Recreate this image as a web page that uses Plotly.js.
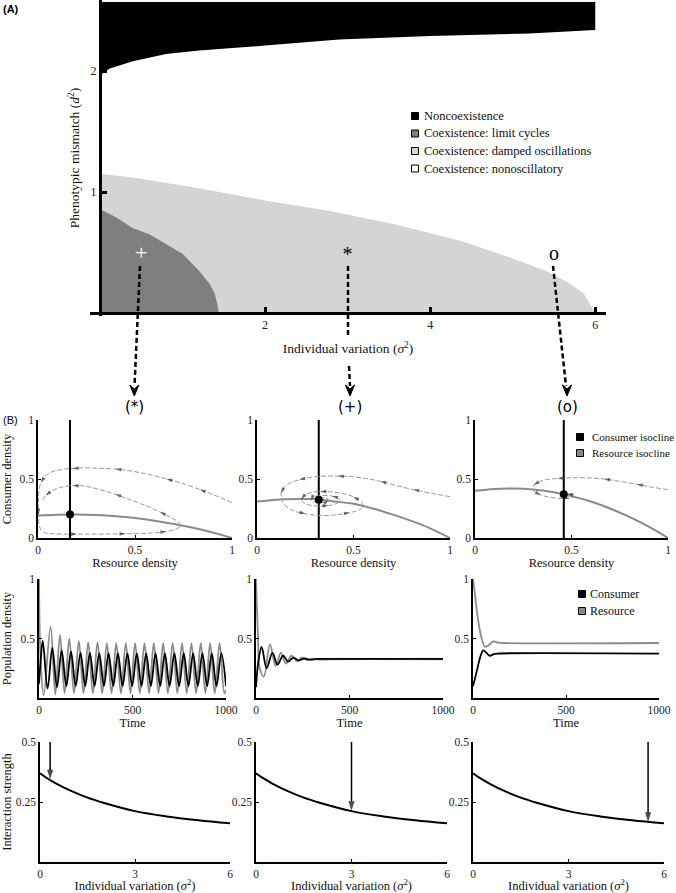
<!DOCTYPE html>
<html>
<head>
<meta charset="utf-8">
<script src="https://cdn.plot.ly/plotly-3.0.1.min.js"></script>
<style>
  html, body { margin: 0; padding: 0; background: #fff; overflow: hidden; }
  #fig { width: 676px; height: 893px; }
</style>
</head>
<body>
<div id="fig"></div>
<script>
// ---------- Panel A : regions in (sigma^2, d^2) space ----------
const sigmaNonco = [0, 0.03, 0.12, 0.4, 0.8, 1.2, 2.0, 2.9, 4.0, 5.2, 6.0];
const d2Nonco    = [1.94, 1.98, 2.02, 2.08, 2.14, 2.17, 2.21, 2.26, 2.29, 2.31, 2.34];
const d2Top = 2.57;

const sigmaDamped = [0, 0.4, 1.2, 2.0, 2.8, 3.6, 4.4, 5.0, 5.4, 5.7, 5.86, 5.94, 6.0];
const d2Damped    = [1.15, 1.12, 1.03, 0.93, 0.84, 0.73, 0.59, 0.45, 0.35, 0.24, 0.16, 0.07, 0];

const sigmaCycles = [0, 0.2, 0.4, 0.6, 0.8, 1.0, 1.2, 1.33, 1.39, 1.42, 1.44];
const d2Cycles    = [0.86, 0.79, 0.70, 0.65, 0.57, 0.49, 0.35, 0.24, 0.16, 0.08, 0];

const markSigma = [0.5, 3.0, 5.5];
const markD2    = [0.48, 0.47, 0.48];
const markText  = ['+', '*', 'o'];
const caseText  = ['(*)', '(+)', '(o)'];

const legendA = ['Noncoexistence', 'Coexistence: limit cycles', 'Coexistence: damped oscillations', 'Coexistence: nonoscillatory'];
const legendIso = ['Consumer isocline', 'Resource isocline'];
const legendPop = ['Consumer', 'Resource'];

// ---------- Panel B row 1 : phase planes ----------
const resGrid = [0, 0.1, 0.2, 0.3, 0.4, 0.5, 0.6, 0.7, 0.8, 0.9, 1.0];
const isoRes = [
  [0.19, 0.198, 0.20, 0.195, 0.185, 0.169, 0.147, 0.119, 0.086, 0.046, 0],
  [0.31, 0.325, 0.33, 0.33, 0.31, 0.29, 0.25, 0.20, 0.145, 0.08, 0],
  [0.40, 0.416, 0.419, 0.41, 0.389, 0.355, 0.309, 0.25, 0.179, 0.096, 0]
];
const isoCons = [0.165, 0.32, 0.46];
const eqCons  = [0.20, 0.325, 0.37];

const trajR = [
  [1.0, 0.90, 0.835, 0.75, 0.663, 0.58, 0.49, 0.40, 0.32, 0.25, 0.18, 0.12, 0.07, 0.035, 0.015, 0.005, 0.002, 0.003, 0.006, 0.015, 0.035,
   0.08, 0.2, 0.32, 0.45, 0.58, 0.66, 0.71, 0.735, 0.73, 0.70, 0.63, 0.56, 0.49, 0.40, 0.32, 0.24, 0.18, 0.12, 0.07, 0.04, 0.025],
  [1.0, 0.90, 0.81, 0.72, 0.64, 0.56, 0.49, 0.42, 0.35, 0.28, 0.22, 0.17, 0.14, 0.125, 0.13, 0.15, 0.19, 0.25, 0.32, 0.40, 0.48, 0.53,
   0.55, 0.54, 0.50, 0.45, 0.39, 0.33, 0.28, 0.245, 0.23, 0.24, 0.27, 0.32, 0.37, 0.41, 0.43, 0.42, 0.39, 0.35, 0.31, 0.285, 0.28,
   0.30, 0.33, 0.36, 0.37, 0.355, 0.33],
  [1.0, 0.92, 0.84, 0.75, 0.67, 0.58, 0.50, 0.43, 0.37, 0.33, 0.305, 0.30, 0.31, 0.34, 0.39, 0.44, 0.49, 0.52, 0.51, 0.48]
];
const trajC = [
  [0.30, 0.37, 0.41, 0.46, 0.50, 0.535, 0.565, 0.585, 0.59, 0.595, 0.59, 0.58, 0.56, 0.52, 0.47, 0.40, 0.31, 0.20, 0.12, 0.07, 0.045,
   0.035, 0.033, 0.033, 0.036, 0.042, 0.055, 0.075, 0.10, 0.125, 0.16, 0.22, 0.27, 0.315, 0.37, 0.41, 0.44, 0.445, 0.43, 0.40, 0.36, 0.32],
  [0.35, 0.38, 0.41, 0.445, 0.48, 0.505, 0.52, 0.525, 0.525, 0.515, 0.495, 0.465, 0.43, 0.38, 0.32, 0.27, 0.23, 0.205, 0.19, 0.195,
   0.215, 0.24, 0.27, 0.31, 0.35, 0.375, 0.39, 0.395, 0.385, 0.36, 0.33, 0.30, 0.28, 0.27, 0.275, 0.29, 0.315, 0.34, 0.355, 0.36,
   0.355, 0.34, 0.32, 0.305, 0.30, 0.31, 0.325, 0.34, 0.34],
  [0.41, 0.43, 0.455, 0.48, 0.50, 0.51, 0.51, 0.505, 0.495, 0.475, 0.45, 0.42, 0.39, 0.365, 0.345, 0.335, 0.34, 0.35, 0.365, 0.375]
];
// which points of each trajectory carry a direction arrow
const arrowIdx = [
  [2, 4, 7, 10, 14, 17, 22, 24, 26, 31, 34, 37, 40],
  [2, 4, 7, 10, 13, 17, 20, 24, 27, 30, 34, 38, 42, 46],
  [2, 4, 7, 10, 13, 16, 19]
];

// ---------- Panel B row 2 : time series ----------
const timeRes = [
  [0, 8, 25, 62, 87, 112, 137, 162, 187, 213, 238, 263, 288, 313, 338, 363, 388, 413, 438, 464, 489, 514, 539,
   564, 589, 614, 639, 664, 689, 715, 740, 765, 790, 815, 840, 865, 890, 915, 940, 966, 991, 1000],
  [0, 10, 20, 42, 75, 105, 133, 160, 190, 218, 245, 275, 305, 340, 400, 1000],
  [0, 9, 27, 45, 65, 85, 110, 135, 160, 1000]
];
const resource = [
  [1.0, 0.35, 0.02, 0.60, 0.03, 0.53, 0.04, 0.50, 0.04, 0.48, 0.04, 0.47, 0.04, 0.47, 0.04, 0.46, 0.04, 0.46, 0.04, 0.46, 0.04,
   0.46, 0.04, 0.46, 0.04, 0.46, 0.04, 0.46, 0.04, 0.46, 0.04, 0.46, 0.04, 0.46, 0.04, 0.46, 0.04, 0.46, 0.04, 0.46, 0.04, 0.07],
  [1.0, 0.55, 0.25, 0.18, 0.45, 0.27, 0.38, 0.29, 0.355, 0.31, 0.34, 0.318, 0.33, 0.322, 0.325, 0.325],
  [1.0, 0.89, 0.66, 0.51, 0.43, 0.445, 0.475, 0.465, 0.462, 0.462]
];
const timeCons = [
  [0, 8, 20, 46, 71, 96, 121, 146, 171, 196, 222, 247, 272, 297, 322, 347, 372, 397, 422, 447, 473, 498, 523,
   548, 573, 598, 623, 648, 673, 698, 724, 749, 774, 799, 824, 849, 874, 899, 924, 949, 975, 1000],
  [0, 12, 30, 57, 88, 115, 145, 172, 200, 228, 258, 290, 330, 400, 1000],
  [0, 10, 27, 40, 55, 72, 90, 115, 140, 1000]
];
const consumer = [
  [0.12, 0.30, 0.48, 0.08, 0.42, 0.09, 0.40, 0.10, 0.39, 0.10, 0.38, 0.10, 0.38, 0.10, 0.375, 0.10, 0.375, 0.10, 0.375, 0.10, 0.375,
   0.10, 0.375, 0.10, 0.375, 0.10, 0.375, 0.10, 0.375, 0.10, 0.375, 0.10, 0.375, 0.10, 0.375, 0.10, 0.375, 0.10, 0.375, 0.10, 0.375, 0.10],
  [0.09, 0.30, 0.43, 0.25, 0.38, 0.28, 0.355, 0.305, 0.34, 0.315, 0.332, 0.322, 0.328, 0.328, 0.328],
  [0.10, 0.16, 0.27, 0.35, 0.40, 0.38, 0.355, 0.37, 0.374, 0.373]
];

// ---------- Panel B row 3 : interaction strength ----------
const sigmaStr = [0, 0.25, 0.5, 1, 1.5, 2, 3, 4, 5, 6];
const strength = [0.37, 0.347, 0.328, 0.295, 0.268, 0.247, 0.212, 0.19, 0.174, 0.161];
const pickSigma = [0.32, 3.0, 5.5];
const pickStrength = [0.345, 0.214, 0.168];

// ---------- helpers ----------
const W = 676, H = 893;
const px = v => v / W;
const py = v => 1 - v / H;
const SERIF = '"Liberation Serif", "Times New Roman", serif';
const SANS = '"DejaVu Sans", sans-serif';
const GRAY = '#8a8a8a';

const traces = [];
const shapes = [];
const annotations = [];

// panel A fills
traces.push({
  x: sigmaDamped, y: d2Damped, type: 'scatter', mode: 'lines', fill: 'tozeroy',
  fillcolor: '#d4d4d4', line: { width: 0, color: '#d4d4d4' }, xaxis: 'x', yaxis: 'y', hoverinfo: 'skip'
});
traces.push({
  x: sigmaCycles, y: d2Cycles, type: 'scatter', mode: 'lines', fill: 'tozeroy',
  fillcolor: '#7f7f7f', line: { width: 0, color: '#7f7f7f' }, xaxis: 'x', yaxis: 'y', hoverinfo: 'skip'
});
traces.push({
  x: sigmaNonco, y: d2Nonco, type: 'scatter', mode: 'lines',
  line: { width: 0, color: '#000' }, xaxis: 'x', yaxis: 'y', hoverinfo: 'skip'
});
traces.push({
  x: sigmaNonco, y: sigmaNonco.map(() => d2Top), type: 'scatter', mode: 'lines', fill: 'tonexty',
  fillcolor: '#000', line: { width: 0, color: '#000' }, xaxis: 'x', yaxis: 'y', hoverinfo: 'skip'
});
traces.push({
  x: markSigma, y: markD2, text: markText, type: 'scatter', mode: 'text',
  textposition: 'middle center', cliponaxis: false,
  textfont: { family: SERIF, size: [22, 20, 20], color: ['#fff', '#000', '#000'] },
  xaxis: 'x', yaxis: 'y', hoverinfo: 'skip'
});

// panel B
const colX = [
  [[38, 232], [257, 450], [475, 668]],
  [[39, 226], [256, 443], [473, 659]],
  [[40, 230], [256, 447], [473, 664]]
];
const rowY = [[420, 538], [579, 698], [742, 862]];
const axisNum = (r, c) => 2 + r * 3 + c;

for (let c = 0; c < 3; c++) {
  // row 1
  let n = axisNum(0, c);
  traces.push({
    x: resGrid, y: isoRes[c], type: 'scatter', mode: 'lines',
    line: { color: GRAY, width: 2, shape: 'spline' },
    xaxis: 'x' + n, yaxis: 'y' + n, hoverinfo: 'skip'
  });
  traces.push({
    x: [isoCons[c], isoCons[c]], y: [0, 1], type: 'scatter', mode: 'lines',
    line: { color: '#000', width: 2 }, xaxis: 'x' + n, yaxis: 'y' + n, hoverinfo: 'skip'
  });
  traces.push({
    x: trajR[c], y: trajC[c], type: 'scatter', mode: 'lines+markers',
    line: { color: '#9a9a9a', width: 1, dash: '5px,2px', shape: 'spline' },
    marker: {
      symbol: 'arrow', angleref: 'previous', color: '#333',
      size: trajR[c].map((_, i) => arrowIdx[c].includes(i) ? 6 : 0), line: { width: 0 }
    },
    xaxis: 'x' + n, yaxis: 'y' + n, hoverinfo: 'skip'
  });
  traces.push({
    x: [isoCons[c]], y: [eqCons[c]], type: 'scatter', mode: 'markers',
    marker: { color: '#000', size: 8 }, xaxis: 'x' + n, yaxis: 'y' + n, hoverinfo: 'skip'
  });

  // row 2
  n = axisNum(1, c);
  traces.push({
    x: timeRes[c], y: resource[c], type: 'scatter', mode: 'lines',
    line: { color: GRAY, width: 1.8, shape: 'spline' },
    xaxis: 'x' + n, yaxis: 'y' + n, hoverinfo: 'skip'
  });
  traces.push({
    x: timeCons[c], y: consumer[c], type: 'scatter', mode: 'lines',
    line: { color: '#000', width: 1.8, shape: 'spline' },
    xaxis: 'x' + n, yaxis: 'y' + n, hoverinfo: 'skip'
  });

  // row 3
  n = axisNum(2, c);
  traces.push({
    x: sigmaStr, y: strength, type: 'scatter', mode: 'lines',
    line: { color: '#000', width: 2, shape: 'spline' },
    xaxis: 'x' + n, yaxis: 'y' + n, hoverinfo: 'skip'
  });
  traces.push({
    x: [pickSigma[c], pickSigma[c]], y: [0.5, pickStrength[c]], type: 'scatter', mode: 'lines+markers',
    line: { color: '#000', width: 1.5 },
    marker: { symbol: 'arrow', angleref: 'previous', color: '#000', size: [0, 10], line: { width: 0 } },
    xaxis: 'x' + n, yaxis: 'y' + n, hoverinfo: 'skip'
  });
}

// hand-placed legends (squares + labels)
function addLegend(names, colors, xSq, xText, yRows, sq, fontSize) {
  names.forEach((name, i) => {
    shapes.push({
      type: 'rect', xref: 'paper', yref: 'paper',
      x0: px(xSq - sq / 2), x1: px(xSq + sq / 2), y0: py(yRows[i] + sq / 2), y1: py(yRows[i] - sq / 2),
      fillcolor: colors[i], line: { color: '#000', width: 1 }
    });
    annotations.push({
      xref: 'paper', yref: 'paper', x: px(xText), y: py(yRows[i]), xanchor: 'left', yanchor: 'middle',
      text: name, showarrow: false, font: { family: SERIF, size: fontSize, color: '#111' }
    });
  });
}
addLegend(legendA, ['#000', '#7f7f7f', '#d4d4d4', '#fff'], 415, 422, [116, 133.5, 151, 168.5], 7, 12.5);
addLegend(legendIso, ['#000', GRAY], 580, 590, [437, 453], 7, 11);
addLegend(legendPop, ['#000', GRAY], 582, 588, [594, 611], 7, 12);

// dashed pointers from panel A to panel B
const dashLine = { color: '#000', width: 2.5, dash: '5px,3px' };
[[140, 266, 134.5, 386], [348, 266, 348, 338], [349, 366, 350, 386], [553, 266, 566, 386]].forEach(s => {
  shapes.push({ type: 'line', xref: 'paper', yref: 'paper',
    x0: px(s[0]), y0: py(s[1]), x1: px(s[2]), y1: py(s[3]), line: dashLine });
});
[134.3, 350, 567].forEach((xt, i) => {
  const tip = 396, base = 385, half = 4.5;
  shapes.push({
    type: 'path', xref: 'paper', yref: 'paper', fillcolor: '#000', line: { color: '#000', width: 1 },
    path: `M ${px(xt - half)} ${py(base)} L ${px(xt)} ${py(base + 4)} L ${px(xt + half)} ${py(base)} L ${px(xt)} ${py(tip)} Z`
  });
  annotations.push({
    xref: 'paper', yref: 'paper', x: px(xt), y: py(407), text: caseText[i], showarrow: false,
    xanchor: 'center', yanchor: 'middle', font: { family: SANS, size: 15, color: '#000' }
  });
});

annotations.push({ xref: 'paper', yref: 'paper', x: px(1), y: py(1), xanchor: 'left', yanchor: 'top',
  text: '<b>(A)</b>', showarrow: false, font: { family: '"Liberation Sans", Arial, sans-serif', size: 11, color: '#000' } });
annotations.push({ xref: 'paper', yref: 'paper', x: px(1), y: py(412), xanchor: 'left', yanchor: 'top',
  text: '(B)', showarrow: false, font: { family: '"Liberation Sans", Arial, sans-serif', size: 11, color: '#000' } });

// ---------- layout ----------
const tickFontB = { family: SERIF, size: 11.5, color: '#222' };
const titleFontB = { family: SERIF, size: 12.5, color: '#111' };
const sigmaTitle = 'Individual variation (<i>σ</i><sup>2</sup>)';

const layout = {
  width: W, height: H,
  margin: { l: 0, r: 0, t: 0, b: 0 },
  paper_bgcolor: '#fff', plot_bgcolor: 'rgba(0,0,0,0)',
  font: { family: SERIF, color: '#000' },
  showlegend: false,
  xaxis: {
    domain: [px(90), px(606)], range: [-0.12, 6.13], anchor: 'free', position: py(313),
    showline: true, linecolor: '#000', linewidth: 3, ticks: 'inside', ticklen: 5, tickwidth: 3,
    tickcolor: '#000', tickvals: [2, 4, 6], showgrid: false, zeroline: false,
    tickfont: { family: SERIF, size: 12, color: '#222' },
    title: { text: sigmaTitle, font: { family: SERIF, size: 13.5, color: '#111' }, standoff: 12 }
  },
  yaxis: {
    domain: [py(316), 1], range: [-0.025, 2.587], anchor: 'free', position: px(100),
    showline: true, linecolor: '#000', linewidth: 3, ticks: 'inside', ticklen: 5, tickwidth: 3,
    tickcolor: '#000', tickvals: [1, 2], showgrid: false, zeroline: false,
    tickfont: { family: SERIF, size: 12, color: '#222' },
    title: { text: 'Phenotypic mismatch (<i>d</i><sup>2</sup>)', font: { family: SERIF, size: 13.5, color: '#111' }, standoff: 6 }
  },
  shapes: shapes,
  annotations: annotations
};

const rowSpec = [
  { xr: [0, 1], xt: [0, 0.5, 1], xtt: ['0', '0.5', '1'], yr: [0, 1], yt: [0, 0.5, 1], ytt: ['0', '0.5', '1'],
    xtitle: 'Resource density', ytitle: 'Consumer density', xs: 4, ys: 6 },
  { xr: [0, 1000], xt: [0, 500, 1000], xtt: ['0', '500', '1000'], yr: [0, 1], yt: [0.5, 1], ytt: ['0.5', '1'],
    xtitle: 'Time', ytitle: 'Population density', xs: 4, ys: 6 },
  { xr: [0, 6], xt: [0, 3, 6], xtt: ['0', '3', '6'], yr: [0, 0.5], yt: [0.25, 0.5], ytt: ['0.25', '0.5'],
    xtitle: sigmaTitle, ytitle: 'Interaction strength', xs: 4, ys: 3 }
];

for (let r = 0; r < 3; r++) {
  const s = rowSpec[r];
  for (let c = 0; c < 3; c++) {
    const n = axisNum(r, c);
    const common = {
      showline: true, linecolor: '#000', linewidth: 1.5, ticks: 'inside', ticklen: 3, tickwidth: 1,
      tickcolor: '#000', showgrid: false, zeroline: false, tickfont: tickFontB, fixedrange: true
    };
    layout['xaxis' + n] = Object.assign({}, common, {
      domain: [px(colX[r][c][0]), px(colX[r][c][1])], range: s.xr, anchor: 'y' + n,
      tickvals: s.xt, ticktext: s.xtt,
      title: { text: s.xtitle, font: titleFontB, standoff: s.xs }
    });
    const yax = Object.assign({}, common, {
      domain: [py(rowY[r][1]), py(rowY[r][0])], range: s.yr, anchor: 'x' + n,
      tickvals: s.yt, ticktext: s.ytt
    });
    if (c === 0) yax.title = { text: s.ytitle, font: titleFontB, standoff: s.ys };
    layout['yaxis' + n] = yax;
  }
}

Plotly.newPlot('fig', traces, layout, { displayModeBar: false, responsive: false });
</script>
</body>
</html>
